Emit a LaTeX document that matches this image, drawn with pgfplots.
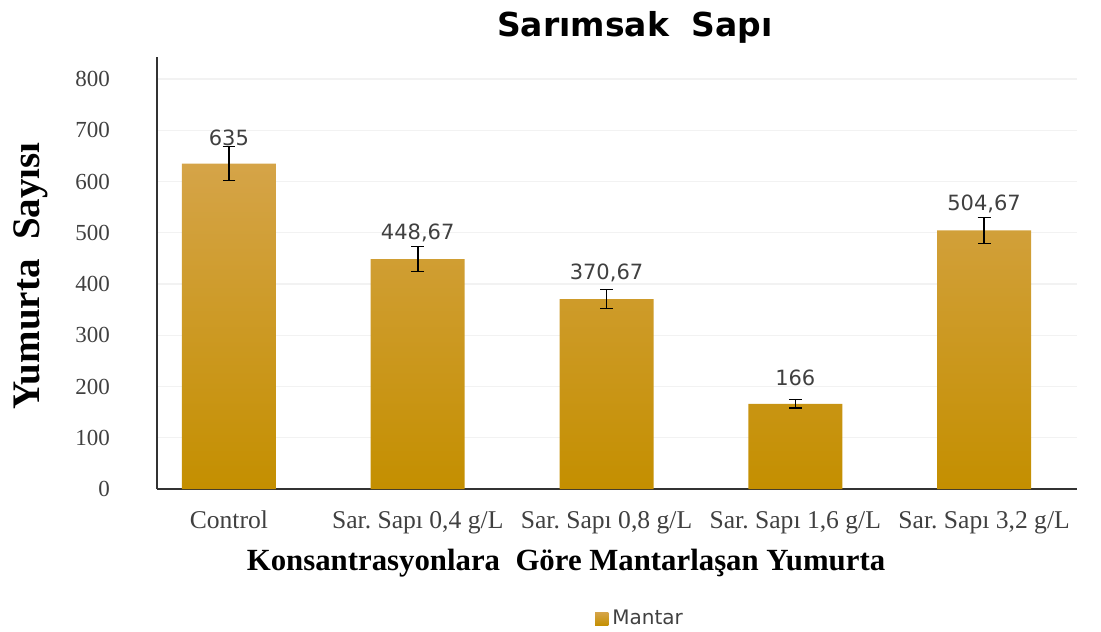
\documentclass[border=0pt]{standalone}
\usepackage{pgfplots}
\pgfplotsset{compat=1.18}
\usepackage{pgfplotstable}
\usepackage{fontspec}
\setmainfont{Liberation Serif}
\newfontfamily\dv{DejaVu Sans}
\frenchspacing

\definecolor{bartop}{RGB}{213,164,72}
\definecolor{barmid}{RGB}{210,155,0}
\definecolor{barbot}{RGB}{196,143,0}
\definecolor{txtgray}{RGB}{64,64,64}

\pgfplotstableread{
x y err lab
0 635    33   635
1 448.67 24.5 448,67
2 370.67 18.5 370,67
3 166    8.5  166
4 504.67 25.5 504,67
}\mantar

\begin{document}
\begin{tikzpicture}
\begin{axis}[
    scale only axis,
    width=460pt, height=216pt,
    xmin=-0.381, xmax=4.492,
    ymin=0, ymax=843,
    ytick={0,100,...,800},
    xtick={0,1,2,3,4},
    xticklabels={Control, {Sar.\ Sapı 0,4 g/L}, {Sar.\ Sapı 0,8 g/L}, {Sar.\ Sapı 1,6 g/L}, {Sar.\ Sapı 3,2 g/L}},
    axis x line*=bottom,
    axis y line*=left,
    axis line style={draw=black!80, line width=0.9pt, -},
    major tick length=0pt,
    ymajorgrids,
    grid style={draw=black!5, line width=0.6pt},
    /pgf/number format/assume math mode=true,
    tick label style={font=\fontsize{11.5}{13}\selectfont, text=txtgray},
    yticklabel style={anchor=east, xshift=-20pt},
    xticklabel style={anchor=base, yshift=-19.5pt, font=\fontsize{12.8}{14}\selectfont},
    legend style={at={(242pt,-65pt)}, anchor=center, draw=none, fill=none,
        font=\dv\fontsize{10}{12}\selectfont, text=txtgray},
    legend image code/.code={\fill[barmid] (0pt,-3.3pt) rectangle (6.6pt,3.3pt);},
    clip=false,
]
\addplot[ybar, bar width=47pt, draw=none,
    top color=bartop, middle color=barmid, bottom color=barbot,
    point meta=explicit symbolic,
    nodes near coords,
    every node near coord/.append style={anchor=center, yshift=13pt,
        font=\dv\fontsize{10.5}{12}\selectfont, text=txtgray},
    error bars/.cd, y dir=both, y explicit,
    error bar style={black, line width=0.8pt},
    error mark options={rotate=90, mark size=3.2pt, line width=0.8pt, black},
] table[x=x, y=y, y error=err, meta=lab] {\mantar};
\addlegendentry{Mantar}
\end{axis}
\node[anchor=base, font=\dv\bfseries\fontsize{16.5}{18}\selectfont] at (239pt,226pt) {Sarımsak\ \ Sapı};
\node[rotate=90, anchor=center, font=\bfseries\fontsize{19.5}{22}\selectfont] at (-63pt,106.5pt) {Yumurta\ \ Sayısı};
\node[anchor=center, font=\bfseries\fontsize{15.4}{18}\selectfont] at (204.5pt,-37pt) {Konsantrasyonlara\ \ Göre Mantarlaşan Yumurta};
\pgfresetboundingbox
\path (-78.5pt,-71pt) rectangle (472pt,244.5pt);
\end{tikzpicture}
\end{document}
